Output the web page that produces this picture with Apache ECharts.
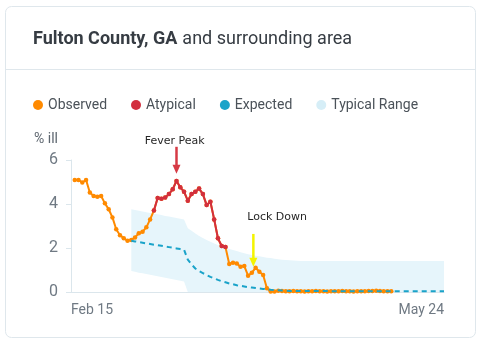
<!DOCTYPE html>
<html>
<head>
<meta charset="utf-8">
<style>
  html, body { margin: 0; padding: 0; background: #ffffff; }
  #chart { width: 480px; height: 347px; }
</style>
<script src="https://cdn.jsdelivr.net/npm/echarts@6/dist/echarts.min.js"></script>
</head>
<body>
<div id="chart"></div>
<script>
// Days are counted from Feb 15 (day 0).
const xTickDays = [0, 99];
const xTickLabels = ['Feb 15', 'May 24'];
const yTicks = [0, 2, 4, 6];

// Observed % ill, one value per day starting at day 1
const observedStartDay = 1;
const observed = [
  5.09, 5.09, 4.98, 5.09, 4.52, 4.36, 4.33, 4.36, 4.03, 3.76,
  3.39, 2.85, 2.58, 2.44, 2.33, 2.36, 2.48, 2.67, 2.74, 2.94,
  3.30, 3.70, 4.27, 4.24, 4.29, 4.45, 4.67, 5.05, 4.76, 4.56,
  4.15, 4.45, 4.56, 4.70, 4.45, 3.95, 4.10, 3.30, 2.44, 2.09,
  2.04, 1.27, 1.33, 1.30, 1.15, 1.18, 0.74, 0.88, 1.10, 0.92,
  0.77, 0.17, 0.02, 0.02, 0.06, 0.05, 0.03, 0.03, 0.04, 0.03,
  0.03, 0.02, 0.03, 0.03, 0.04, 0.03, 0.03, 0.02, 0.03, 0.03,
  0.03, 0.04, 0.03, 0.03, 0.02, 0.03, 0.03, 0.03, 0.04, 0.05,
  0.06, 0.04, 0.03, 0.03, 0.03
];

// Days flagged as atypical (inclusive)
const atypicalFrom = 22;
const atypicalTo = 41;

// Expected % ill, starting at day 16
const expectedStartDay = 16;
const expected = [
  2.33, 2.30, 2.27, 2.24, 2.21, 2.18, 2.15, 2.13, 2.10, 2.07,
  2.04, 2.01, 1.98, 1.95, 1.92, 1.47, 1.25, 1.07, 0.95, 0.86,
  0.77, 0.69, 0.62, 0.55, 0.49, 0.44, 0.39, 0.35, 0.31, 0.28,
  0.25, 0.22, 0.20, 0.18, 0.16, 0.14, 0.12, 0.10, 0.09, 0.08,
  0.07, 0.06, 0.05, 0.05, 0.04, 0.04, 0.04, 0.04, 0.04, 0.04,
  0.04, 0.04, 0.04, 0.04, 0.03, 0.03, 0.03, 0.03, 0.03, 0.03,
  0.03, 0.03, 0.03, 0.03, 0.03, 0.03, 0.03, 0.03, 0.03, 0.03,
  0.03, 0.03, 0.03, 0.03, 0.03, 0.03, 0.03, 0.03, 0.03, 0.03,
  0.03, 0.03, 0.03, 0.03
];

// Typical range bounds, starting at day 16
const rangeStartDay = 16;
const rangeHigh = [
  3.76, 3.73, 3.69, 3.66, 3.63, 3.59, 3.56, 3.53, 3.50, 3.46,
  3.43, 3.40, 3.36, 3.33, 3.30, 2.90, 2.78, 2.66, 2.55, 2.45,
  2.36, 2.28, 2.21, 2.14, 2.08, 2.02, 1.96, 1.91, 1.86, 1.81,
  1.76, 1.72, 1.68, 1.65, 1.62, 1.59, 1.56, 1.54, 1.51, 1.49,
  1.47, 1.45, 1.44, 1.43, 1.42, 1.41, 1.41, 1.41, 1.41, 1.41,
  1.41, 1.41, 1.41, 1.41, 1.41, 1.41, 1.41, 1.41, 1.41, 1.41,
  1.41, 1.41, 1.41, 1.41, 1.41, 1.41, 1.41, 1.41, 1.41, 1.41,
  1.41, 1.41, 1.41, 1.41, 1.41, 1.41, 1.41, 1.41, 1.41, 1.41,
  1.41, 1.41, 1.41, 1.41
];
const rangeLow = [
  0.95, 0.92, 0.88, 0.85, 0.82, 0.78, 0.75, 0.72, 0.68, 0.65,
  0.61, 0.58, 0.55, 0.51, 0.48, 0, 0, 0, 0, 0,
  0, 0, 0, 0, 0, 0, 0, 0, 0, 0,
  0, 0, 0, 0, 0, 0, 0, 0, 0, 0,
  0, 0, 0, 0, 0, 0, 0, 0, 0, 0,
  0, 0, 0, 0, 0, 0, 0, 0, 0, 0,
  0, 0, 0, 0, 0, 0, 0, 0, 0, 0,
  0, 0, 0, 0, 0, 0, 0, 0, 0, 0,
  0, 0, 0, 0
];

// Event annotations: arrow at `day` from value `from` down to value `to`
const annotations = [
  { text: 'Fever Peak', day: 28, from: 6.60, to: 5.38, textDay: 27.5, textValue: 6.87, color: '#d63a45' },
  { text: 'Lock Down', day: 48.4, from: 2.64, to: 1.15, textDay: 54.7, textValue: 3.41, color: '#f4f400' }
];

const C = {
  observed: '#ff8a00',
  atypical: '#d22f3e',
  expected: '#1aa3c9',
  range: '#e6f5fb',
  rangeIcon: '#d6eef7',
  axis: '#dbe6ec',
  label: '#6f7983',
  text: '#363c43',
  border: '#dfe7ec'
};
const FONT = 'Roboto, "Noto Sans", sans-serif';

const obsData = observed.map((v, i) => [observedStartDay + i, v]);
const atypData = obsData.filter(d => d[0] >= atypicalFrom && d[0] <= atypicalTo);
const expData = expected.map((v, i) => [expectedStartDay + i, v]);
const bandData = rangeHigh.map((v, i) => [rangeStartDay + i, rangeLow[i], v]);

// The typical range is filled as one polygon: upper edge forward, lower edge back
function renderBand(params, api) {
  if (params.dataIndex !== 0) return null;
  const upper = bandData.map(d => api.coord([d[0], d[2]]));
  const lower = bandData.map(d => api.coord([d[0], d[1]])).reverse();
  return {
    type: 'polygon',
    shape: { points: upper.concat(lower) },
    style: { fill: C.range }
  };
}

const chart = echarts.init(document.getElementById('chart'), null, { renderer: 'canvas' });

const cardGraphics = [
  {
    type: 'rect', z: -10, silent: true,
    shape: { x: 5.5, y: 6.5, width: 470, height: 331, r: 6 },
    style: { fill: '#ffffff', stroke: C.border, lineWidth: 1 }
  },
  {
    type: 'line', z: -9, silent: true,
    shape: { x1: 6, y1: 69.5, x2: 475, y2: 69.5 },
    style: { stroke: C.border, lineWidth: 1 }
  }
];

chart.setOption({
  animation: false,
  backgroundColor: '#ffffff',
  title: {
    left: 33, top: 30, padding: 0,
    text: '{b|Fulton County, GA} {n|and surrounding area}',
    textStyle: {
      rich: {
        b: { fontFamily: FONT, fontSize: 18, fontWeight: 'bold', color: C.text },
        n: { fontFamily: FONT, fontSize: 18, fontWeight: 'normal', color: C.text }
      }
    }
  },
  legend: {
    left: 33, top: 98, padding: 0,
    icon: 'circle',
    itemWidth: 10, itemHeight: 10, itemGap: 24,
    textStyle: { fontFamily: FONT, fontSize: 14, color: '#4b5259' },
    data: [
      { name: 'Observed', itemStyle: { color: C.observed } },
      { name: 'Atypical', itemStyle: { color: C.atypical } },
      { name: 'Expected', itemStyle: { color: C.expected } },
      { name: 'Typical Range', itemStyle: { color: C.rangeIcon } }
    ]
  },
  grid: { left: 71, right: 36, top: 160, bottom: 55, containLabel: false, outerBoundsMode: 'none' },
  xAxis: {
    type: 'value',
    min: xTickDays[0], max: xTickDays[1], interval: xTickDays[1] - xTickDays[0],
    axisLine: { show: true, lineStyle: { color: C.axis, width: 1 } },
    axisTick: { show: false },
    splitLine: { show: false },
    axisLabel: {
      margin: 11,
      fontFamily: FONT, fontSize: 14, color: C.label,
      showMinLabel: true, showMaxLabel: true,
      alignMinLabel: 'left', alignMaxLabel: 'right',
      formatter: v => {
        const k = xTickDays.indexOf(v);
        return k >= 0 ? xTickLabels[k] : '';
      }
    }
  },
  yAxis: {
    type: 'value',
    min: yTicks[0], max: yTicks[yTicks.length - 1], interval: yTicks[1] - yTicks[0],
    name: '% ill',
    nameLocation: 'end',
    nameGap: 14,
    nameTextStyle: { fontFamily: FONT, fontSize: 14, color: '#5d666f', align: 'right', padding: [0, 13, 0, 0] },
    axisLine: { show: true, lineStyle: { color: C.axis, width: 1 } },
    axisTick: { show: true, length: 5, lineStyle: { color: C.axis } },
    splitLine: { show: false },
    axisLabel: { margin: 13, fontFamily: FONT, fontSize: 16, color: C.label }
  },
  series: [
    {
      name: 'Typical Range', type: 'custom', data: bandData, z: 1, silent: true,
      renderItem: renderBand,
      itemStyle: { color: C.rangeIcon },
      encode: { x: 0, y: [1, 2] }
    },
    {
      name: 'Observed', type: 'line', data: obsData, z: 3,
      symbol: 'circle', symbolSize: 4.5, showSymbol: true,
      lineStyle: { color: C.observed, width: 2 },
      itemStyle: { color: C.observed }
    },
    {
      name: 'Expected', type: 'line', data: expData, z: 4,
      symbol: 'none',
      lineStyle: { color: C.expected, width: 2, type: [5, 4] },
      itemStyle: { color: C.expected }
    },
    {
      name: 'Atypical', type: 'line', data: atypData, z: 5,
      symbol: 'circle', symbolSize: 4.5, showSymbol: true,
      lineStyle: { color: C.atypical, width: 2 },
      itemStyle: { color: C.atypical }
    }
  ],
  graphic: cardGraphics
});

// Arrows and event labels placed through the grid's coordinate system
const noteGraphics = [];
annotations.forEach(a => {
  const top = chart.convertToPixel({ gridIndex: 0 }, [a.day, a.from]);
  const tip = chart.convertToPixel({ gridIndex: 0 }, [a.day, a.to]);
  const txt = chart.convertToPixel({ gridIndex: 0 }, [a.textDay, a.textValue]);
  const head = 9, half = 4;
  noteGraphics.push({
    type: 'line', z: 20, silent: true,
    shape: { x1: top[0], y1: top[1], x2: tip[0], y2: tip[1] - head + 1 },
    style: { stroke: a.color, lineWidth: 2.5 }
  });
  noteGraphics.push({
    type: 'polygon', z: 20, silent: true,
    shape: { points: [[tip[0] - half, tip[1] - head], [tip[0] + half, tip[1] - head], [tip[0], tip[1]]] },
    style: { fill: a.color }
  });
  noteGraphics.push({
    type: 'text', z: 20, silent: true,
    x: txt[0], y: txt[1],
    style: {
      text: a.text, fill: '#262626',
      font: '11px "DejaVu Sans", sans-serif',
      align: 'center', verticalAlign: 'middle'
    }
  });
});
chart.setOption({ graphic: cardGraphics.concat(noteGraphics) });
</script>
</body>
</html>
